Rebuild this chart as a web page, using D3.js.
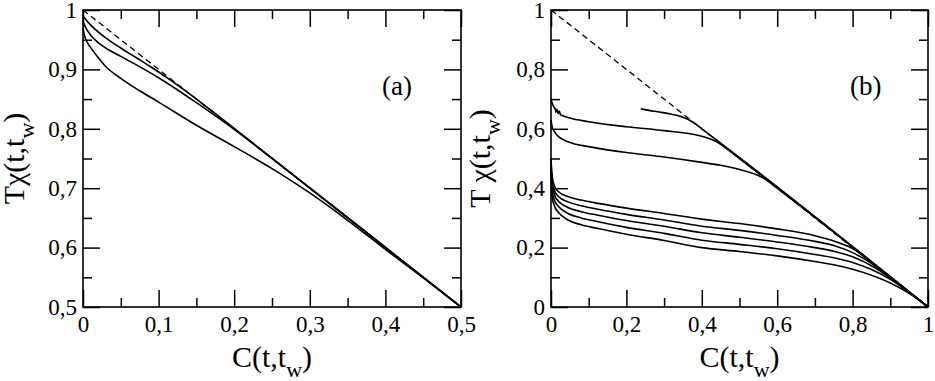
<!DOCTYPE html>
<html>
<head>
<meta charset="utf-8">
<script src="https://cdn.jsdelivr.net/npm/d3@7"></script>
</head>
<body style="margin:0">
<svg id="chart" width="935" height="381"></svg>
<script>
// ---- panel (a) ----
var aTicksX = [0, 0.1, 0.2, 0.3, 0.4, 0.5];
var aMinorX = [0.05, 0.15, 0.25, 0.35, 0.45];
var aTicksY = [0.5, 0.6, 0.7, 0.8, 0.9, 1];
var aMinorY = [0.55, 0.65, 0.75, 0.85, 0.95];
var aFdt = [[0, 1], [0.5, 0.5]];
var aTop = [[0, 0.99], [0.005, 0.982], [0.01, 0.975], [0.02, 0.963], [0.03, 0.953], [0.05, 0.936],
            [0.07, 0.92], [0.09, 0.904], [0.11, 0.887], [0.13, 0.869], [0.15, 0.85], [0.3, 0.7], [0.5, 0.5]];
var aMid = [[0, 0.98], [0.005, 0.967], [0.01, 0.958], [0.02, 0.945], [0.03, 0.936], [0.05, 0.922],
            [0.07, 0.908], [0.1, 0.886], [0.15, 0.844], [0.2, 0.799], [0.25, 0.75], [0.5, 0.5]];
var aLow = [[0, 0.97], [0.002, 0.957], [0.005, 0.947], [0.01, 0.937], [0.02, 0.92], [0.03, 0.905],
            [0.05, 0.885], [0.075, 0.864], [0.1, 0.845], [0.15, 0.806], [0.2, 0.77], [0.25, 0.733],
            [0.3, 0.692], [0.35, 0.646], [0.4, 0.597], [0.45, 0.549], [0.5, 0.5]];

// ---- panel (b) ----
var bTicksX = [0, 0.2, 0.4, 0.6, 0.8, 1];
var bMinorX = [0.1, 0.3, 0.5, 0.7, 0.9];
var bTicksY = [0, 0.2, 0.4, 0.6, 0.8, 1];
var bMinorY = [0.1, 0.3, 0.5, 0.7, 0.9];
var bFdt = [[0, 1], [1, 0]];
var bCurveA = [[0.238, 0.667], [0.26, 0.662], [0.29, 0.656], [0.32, 0.649], [0.34, 0.643], [0.36, 0.634],
               [0.38, 0.619], [0.4, 0.6], [1, 0]];
var bCurveB = [[0, 0.70], [0.002, 0.69], [0.005, 0.68], [0.008, 0.672], [0.011, 0.668], [0.013, 0.656],
               [0.016, 0.666], [0.019, 0.652], [0.022, 0.66], [0.025, 0.648], [0.03, 0.645], [0.05, 0.636],
               [0.1, 0.624], [0.2, 0.607], [0.3, 0.594], [0.4, 0.575], [0.43, 0.562], [0.45, 0.548],
               [0.47, 0.529], [0.5, 0.5], [1, 0]];
var bCurveC = [[0, 0.63], [0.003, 0.608], [0.008, 0.593], [0.015, 0.58], [0.03, 0.565], [0.06, 0.55],
               [0.1, 0.54], [0.2, 0.52], [0.3, 0.505], [0.4, 0.487], [0.45, 0.477], [0.5, 0.463],
               [0.53, 0.452], [0.55, 0.443], [0.57, 0.429], [0.6, 0.4], [1, 0]];
var bLowC = [0, 0.003, 0.01, 0.02, 0.045, 0.08, 0.125, 0.2, 0.3, 0.4, 0.5, 0.6, 0.7, 0.75, 0.8, 0.85, 0.9, 0.95, 1];
var bLow1 = [0.50, 0.44, 0.405, 0.388, 0.372, 0.36, 0.349, 0.333, 0.315, 0.296, 0.281, 0.263, 0.24, 0.222, 0.197, 0.15, 0.1, 0.05, 0];
var bLow2 = [0.49, 0.425, 0.39, 0.372, 0.354, 0.341, 0.329, 0.312, 0.293, 0.272, 0.258, 0.241, 0.221, 0.207, 0.183, 0.147, 0.1, 0.05, 0];
var bLow3 = [0.48, 0.41, 0.375, 0.356, 0.335, 0.321, 0.309, 0.291, 0.272, 0.25, 0.235, 0.219, 0.2, 0.188, 0.169, 0.139, 0.098, 0.05, 0];
var bLow4 = [0.47, 0.39, 0.357, 0.338, 0.315, 0.3, 0.287, 0.268, 0.248, 0.225, 0.211, 0.196, 0.177, 0.166, 0.15, 0.126, 0.093, 0.049, 0];
var bLow5 = [0.46, 0.37, 0.338, 0.318, 0.293, 0.277, 0.264, 0.245, 0.224, 0.2, 0.187, 0.172, 0.153, 0.142, 0.127, 0.107, 0.081, 0.046, 0];

var fmt = d3.formatLocale({decimal: ',', thousands: '.', grouping: [3], currency: ['', '']}).format('.1~f');

function zipCurve(xs, ys) {
    return xs.map(function(c, i) { return [c, ys[i]]; });
}

var svg = d3.select('#chart');

var FdtPanel = function(config) {
    this.config = config;
    this.g = svg.append('g').attr('transform', 'translate(' + config.left + ',' + config.top + ')');
    this.x = d3.scaleLinear().domain(config.xDomain).range([0, config.width]);
    this.y = d3.scaleLinear().domain(config.yDomain).range([config.height, 0]);
    this.createAxes();
    this.createCurves();
    this.createLabels();
}

FdtPanel.prototype.createAxes = function() {
    var c = this.config, g = this.g, w = c.width, h = c.height;
    var MAJ = 17, MIN = 9;

    var styleAxis = function(sel) {
        sel.select('.domain').remove();
        sel.selectAll('line').attr('stroke', '#000').attr('stroke-width', 1.5);
        sel.selectAll('text')
            .attr('fill', '#000')
            .attr('font-family', 'Liberation Serif')
            .attr('font-size', 23);
    }

    g.append('g').attr('transform', 'translate(0,' + h + ')')
        .call(d3.axisBottom(this.x).tickValues(c.ticksX).tickFormat(fmt).tickSize(-MAJ).tickSizeOuter(0).tickPadding(9))
        .call(styleAxis);
    g.append('g').attr('transform', 'translate(0,' + h + ')')
        .call(d3.axisBottom(this.x).tickValues(c.minorX).tickFormat('').tickSize(-MIN).tickSizeOuter(0))
        .call(styleAxis);
    g.append('g')
        .call(d3.axisTop(this.x).tickValues(c.ticksX).tickFormat('').tickSize(-MAJ).tickSizeOuter(0))
        .call(styleAxis);
    g.append('g')
        .call(d3.axisTop(this.x).tickValues(c.minorX).tickFormat('').tickSize(-MIN).tickSizeOuter(0))
        .call(styleAxis);

    g.append('g')
        .call(d3.axisLeft(this.y).tickValues(c.ticksY).tickFormat(fmt).tickSize(-MAJ).tickSizeOuter(0).tickPadding(6))
        .call(styleAxis);
    g.append('g')
        .call(d3.axisLeft(this.y).tickValues(c.minorY).tickFormat('').tickSize(-MIN).tickSizeOuter(0))
        .call(styleAxis);
    g.append('g').attr('transform', 'translate(' + w + ',0)')
        .call(d3.axisRight(this.y).tickValues(c.ticksY).tickFormat('').tickSize(-MAJ).tickSizeOuter(0))
        .call(styleAxis);
    g.append('g').attr('transform', 'translate(' + w + ',0)')
        .call(d3.axisRight(this.y).tickValues(c.minorY).tickFormat('').tickSize(-MIN).tickSizeOuter(0))
        .call(styleAxis);

    g.append('rect')
        .attr('width', w)
        .attr('height', h)
        .attr('fill', 'none')
        .attr('stroke', '#000')
        .attr('stroke-width', 1.6);
}

FdtPanel.prototype.createCurves = function() {
    var x = this.x, y = this.y, c = this.config;
    var line = d3.line()
        .x(function(d) { return x(d[0]); })
        .y(function(d) { return y(d[1]); })
        .curve(d3.curveMonotoneX);

    this.g.append('path')
        .attr('d', line(c.fdt))
        .attr('fill', 'none')
        .attr('stroke', '#000')
        .attr('stroke-width', 1.3)
        .attr('stroke-dasharray', '6,4');

    this.g.selectAll('.curve')
        .data(c.curves)
        .enter()
            .append('path')
            .attr('class', 'curve')
            .attr('d', function(d) { return line(d); })
            .attr('fill', 'none')
            .attr('stroke', '#000')
            .attr('stroke-width', 1.6)
            .attr('stroke-linejoin', 'round');
}

FdtPanel.prototype.createLabels = function() {
    var c = this.config, g = this.g;

    var xt = g.append('text')
        .attr('x', c.width / 2)
        .attr('y', c.height + 60)
        .attr('text-anchor', 'middle')
        .attr('font-family', 'Liberation Serif')
        .attr('font-size', 30);
    xt.append('tspan').text('C(t,t');
    xt.append('tspan').attr('font-size', 22).attr('dy', 10).text('w');
    xt.append('tspan').attr('dy', -10).text(')');

    var yt = g.append('text')
        .attr('transform', 'translate(' + c.yTitleX + ',' + (c.height / 2) + ') rotate(-90)')
        .attr('text-anchor', 'middle')
        .attr('font-family', 'Liberation Serif')
        .attr('font-size', 30);
    yt.append('tspan').text(c.yTitle);
    yt.append('tspan').attr('font-size', 22).attr('dy', 10).text('w');
    yt.append('tspan').attr('dy', -10).text(')');

    g.append('text')
        .attr('x', 299)
        .attr('y', 85)
        .attr('font-family', 'Liberation Serif')
        .attr('font-size', 27)
        .text(c.tag);
}

new FdtPanel({
    left: 83, top: 10, width: 378, height: 297,
    xDomain: [0, 0.5], yDomain: [0.5, 1],
    ticksX: aTicksX, minorX: aMinorX, ticksY: aTicksY, minorY: aMinorY,
    fdt: aFdt,
    curves: [aTop, aMid, aLow],
    yTitle: 'T\u03c7(t,t', yTitleX: -59, tag: '(a)'
});

new FdtPanel({
    left: 551, top: 10, width: 377, height: 297,
    xDomain: [0, 1], yDomain: [0, 1],
    ticksX: bTicksX, minorX: bMinorX, ticksY: bTicksY, minorY: bMinorY,
    fdt: bFdt,
    curves: [bCurveA, bCurveB, bCurveC,
             zipCurve(bLowC, bLow1), zipCurve(bLowC, bLow2), zipCurve(bLowC, bLow3),
             zipCurve(bLowC, bLow4), zipCurve(bLowC, bLow5)],
    yTitle: 'T \u03c7(t,t', yTitleX: -61, tag: '(b)'
});
</script>
</body>
</html>
